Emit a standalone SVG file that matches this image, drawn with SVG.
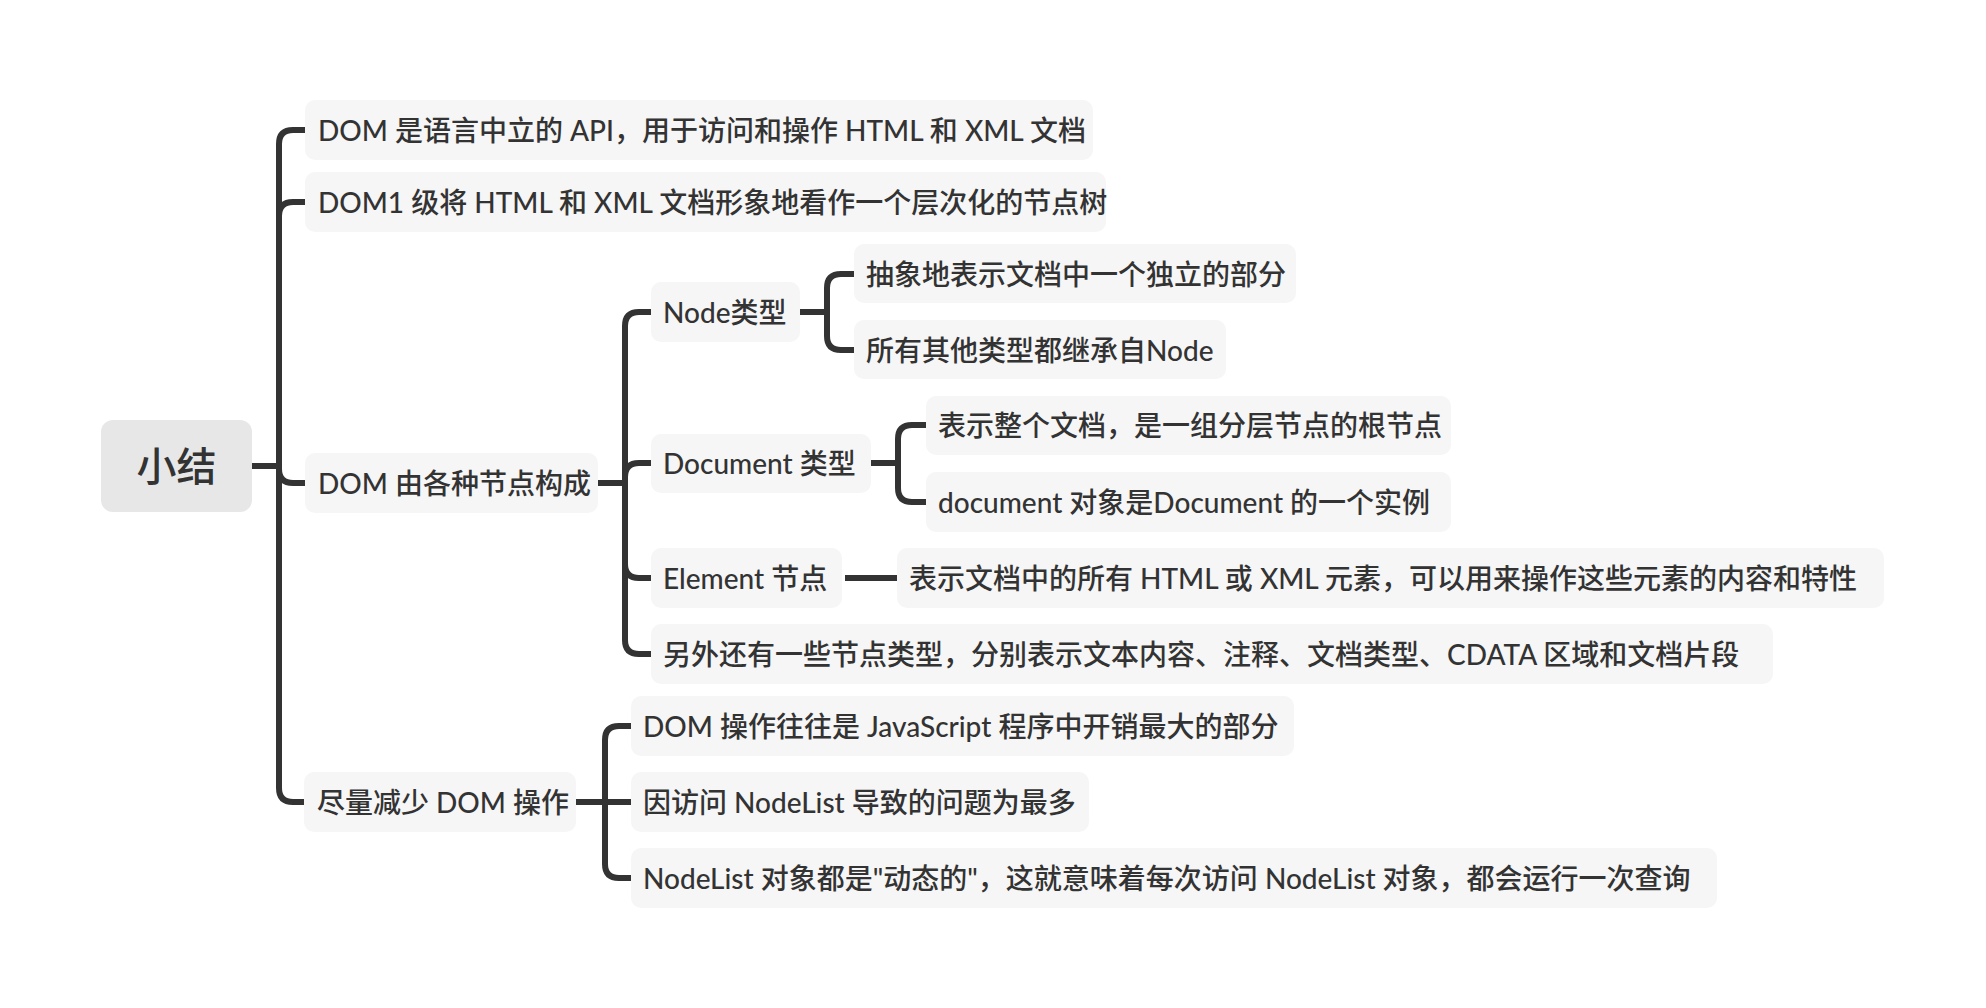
<svg xmlns="http://www.w3.org/2000/svg" width="1986" height="1008" viewBox="0 0 1986 1008">
<style>
.bg{fill:#ffffff}
.box{fill:#f6f6f6}
.root{fill:#e7e7e7}
.t{font-family:"Lato","Noto Sans CJK SC",sans-serif;font-size:28px;fill:#333333;font-weight:500;dominant-baseline:central}
.rt{font-family:"Lato","Noto Sans CJK SC",sans-serif;font-size:40px;fill:#333333;font-weight:500;dominant-baseline:central;text-anchor:middle}
.c{fill:none;stroke:#333333;stroke-width:6;stroke-linecap:butt;stroke-linejoin:round}
</style>
<rect class="bg" x="0" y="0" width="1986" height="1008"/>
<g id="connectors">
<path class="c" d="M252,466 H279"/>
<path class="c" d="M279,466 V144 Q279,130 293,130 H307"/>
<path class="c" d="M279,466 V216 Q279,202 293,202 H307"/>
<path class="c" d="M279,466 V469 Q279,483 293,483 H307"/>
<path class="c" d="M279,466 V788 Q279,802 293,802 H307"/>
<path class="c" d="M598,483 H625"/>
<path class="c" d="M625,483 V326 Q625,312 639,312 H653"/>
<path class="c" d="M625,483 V477 Q625,463 639,463 H653"/>
<path class="c" d="M625,483 V564 Q625,578 639,578 H653"/>
<path class="c" d="M625,483 V640 Q625,654 639,654 H653"/>
<path class="c" d="M800,312 H827"/>
<path class="c" d="M827,312 V288 Q827,274 841,274 H856"/>
<path class="c" d="M827,312 V336 Q827,350 841,350 H856"/>
<path class="c" d="M871,463 H898"/>
<path class="c" d="M898,463 V439 Q898,425 912,425 H928"/>
<path class="c" d="M898,463 V488 Q898,502 912,502 H928"/>
<path class="c" d="M845,578 H897"/>
<path class="c" d="M576,802 H605"/>
<path class="c" d="M605,802 V740 Q605,726 619,726 H633"/>
<path class="c" d="M605,802 H633"/>
<path class="c" d="M605,802 V864 Q605,878 619,878 H633"/>
</g>
<g id="root">
<rect class="root" x="101" y="420" width="151" height="92" rx="12"/>
<text class="rt" x="176.5" y="466">小结</text>
</g>
<g id="n1">
<rect class="box" x="305" y="100" width="788" height="60" rx="10"/>
<text class="t" x="318" y="130">DOM 是语言中立的 API，用于访问和操作 HTML 和 XML 文档</text>
</g>
<g id="n2">
<rect class="box" x="305" y="172" width="801" height="60" rx="10"/>
<text class="t" x="318" y="202">DOM1 级将 HTML 和 XML 文档形象地看作一个层次化的节点树</text>
</g>
<g id="n3">
<rect class="box" x="305" y="453" width="293" height="60" rx="10"/>
<text class="t" x="318" y="483">DOM 由各种节点构成</text>
</g>
<g id="n4">
<rect class="box" x="304" y="772" width="272" height="60" rx="10"/>
<text class="t" x="317" y="802">尽量减少 DOM 操作</text>
</g>
<g id="n3a">
<rect class="box" x="651" y="282" width="149" height="60" rx="10"/>
<text class="t" x="663" y="312">Node类型</text>
</g>
<g id="n3b">
<rect class="box" x="651" y="434" width="220" height="59" rx="10"/>
<text class="t" x="663" y="463">Document 类型</text>
</g>
<g id="n3c">
<rect class="box" x="651" y="548" width="191" height="60" rx="10"/>
<text class="t" x="663" y="578">Element 节点</text>
</g>
<g id="n3d">
<rect class="box" x="651" y="624" width="1122" height="60" rx="10"/>
<text class="t" x="663" y="654">另外还有一些节点类型，分别表示文本内容、注释、文档类型、CDATA 区域和文档片段</text>
</g>
<g id="n3a1">
<rect class="box" x="854" y="244" width="442" height="59" rx="10"/>
<text class="t" x="866" y="274">抽象地表示文档中一个独立的部分</text>
</g>
<g id="n3a2">
<rect class="box" x="854" y="320" width="372" height="59" rx="10"/>
<text class="t" x="866" y="350">所有其他类型都继承自Node</text>
</g>
<g id="n3b1">
<rect class="box" x="926" y="396" width="525" height="59" rx="10"/>
<text class="t" x="938" y="425">表示整个文档，是一组分层节点的根节点</text>
</g>
<g id="n3b2">
<rect class="box" x="926" y="472" width="525" height="60" rx="10"/>
<text class="t" x="938" y="502">document 对象是Document 的一个实例</text>
</g>
<g id="n3c1">
<rect class="box" x="897" y="548" width="987" height="60" rx="10"/>
<text class="t" x="909" y="578">表示文档中的所有 HTML 或 XML 元素，可以用来操作这些元素的内容和特性</text>
</g>
<g id="n4a">
<rect class="box" x="631" y="696" width="663" height="60" rx="10"/>
<text class="t" x="643" y="726">DOM 操作往往是 JavaScript 程序中开销最大的部分</text>
</g>
<g id="n4b">
<rect class="box" x="631" y="772" width="458" height="60" rx="10"/>
<text class="t" x="643" y="802">因访问 NodeList 导致的问题为最多</text>
</g>
<g id="n4c">
<rect class="box" x="631" y="848" width="1086" height="60" rx="10"/>
<text class="t" x="643" y="878">NodeList 对象都是"动态的"，这就意味着每次访问 NodeList 对象，都会运行一次查询</text>
</g>
</svg>
